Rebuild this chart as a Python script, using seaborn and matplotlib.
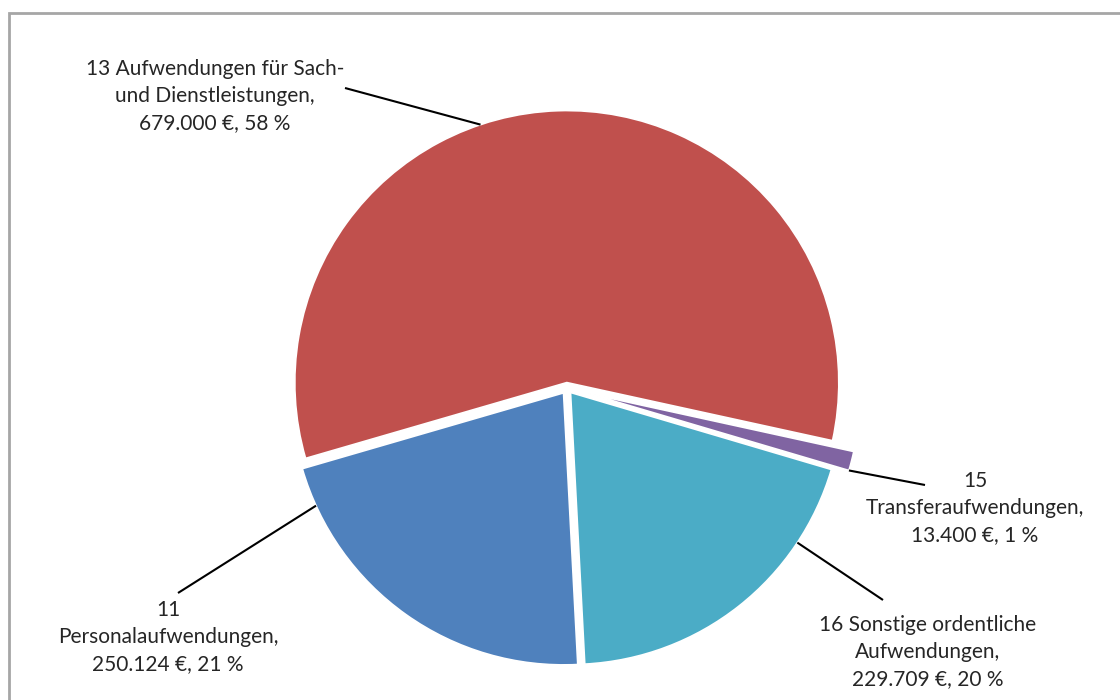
import numpy as np
import seaborn as sns
import matplotlib
matplotlib.use("Agg")
import matplotlib.pyplot as plt
from matplotlib.patches import Rectangle

sns.set_theme(style="white")
plt.rcParams['font.family'] = ['Lato', 'DejaVu Sans']

# data
names = [
    "11\nPersonalaufwendungen",
    "13 Aufwendungen für Sach-\nund Dienstleistungen",
    "15\nTransferaufwendungen",
    "16 Sonstige ordentliche\nAufwendungen",
]
amounts = [250124, 679000, 13400, 229709]
colors = ["#4F81BD", "#C0504D", "#8064A2", "#4BACC6"]

# layout (pixel units, y up)
explode_frac = [0.022, 0.02, 0.08, 0.021]
center = (567, 312)
radius = 272
# label centres and the angle where each leader meets its slice
label_pos = [(168, 63), (215, 604), (975, 192), (928, 48)]
leader_start = [(178, 107), (345, 612), (925, 215), (883, 100)]
leader_angle = [204.5, 108.5, None, -33.5]

fig = plt.figure(figsize=(11.2, 7), dpi=100)
ax = fig.add_axes([0, 0, 1, 1])

# matplotlib's explode is in data units, so scale by the radius
wedges, _ = ax.pie(amounts, colors=colors,
                   explode=[e * radius for e in explode_frac],
                   startangle=273, counterclock=False, center=center,
                   radius=radius,
                   wedgeprops=dict(linewidth=1.2, edgecolor="white"))
ax.set_xlim(0, 1120)
ax.set_ylim(0, 700)
ax.set_aspect("equal")
ax.axis("off")

total = sum(amounts)
for i, w in enumerate(wedges):
    pct = round(amounts[i] / total * 100)
    euro = f"{amounts[i]:,}".replace(",", ".")
    txt = f"{names[i]},\n{euro} €, {pct} %"
    ax.text(label_pos[i][0], label_pos[i][1], txt, ha="center", va="center",
            multialignment="center", fontsize=15, color="#262626",
            linespacing=1.42)
    # point on the wedge rim
    ang = leader_angle[i]
    if ang is None:
        ang = min(w.theta1, w.theta2)
    cx, cy = w.center
    px = cx + w.r * np.cos(np.radians(ang))
    py = cy + w.r * np.sin(np.radians(ang))
    ax.plot([leader_start[i][0], px], [leader_start[i][1], py],
            color="black", linewidth=1.5, solid_capstyle="butt")

# chart frame
ax.add_patch(Rectangle((9, -20), 1200, 700 - 13 + 20, fill=False,
                       edgecolor="#A6A6A6", linewidth=2, clip_on=False))

fig.savefig("out.png", dpi=100)
